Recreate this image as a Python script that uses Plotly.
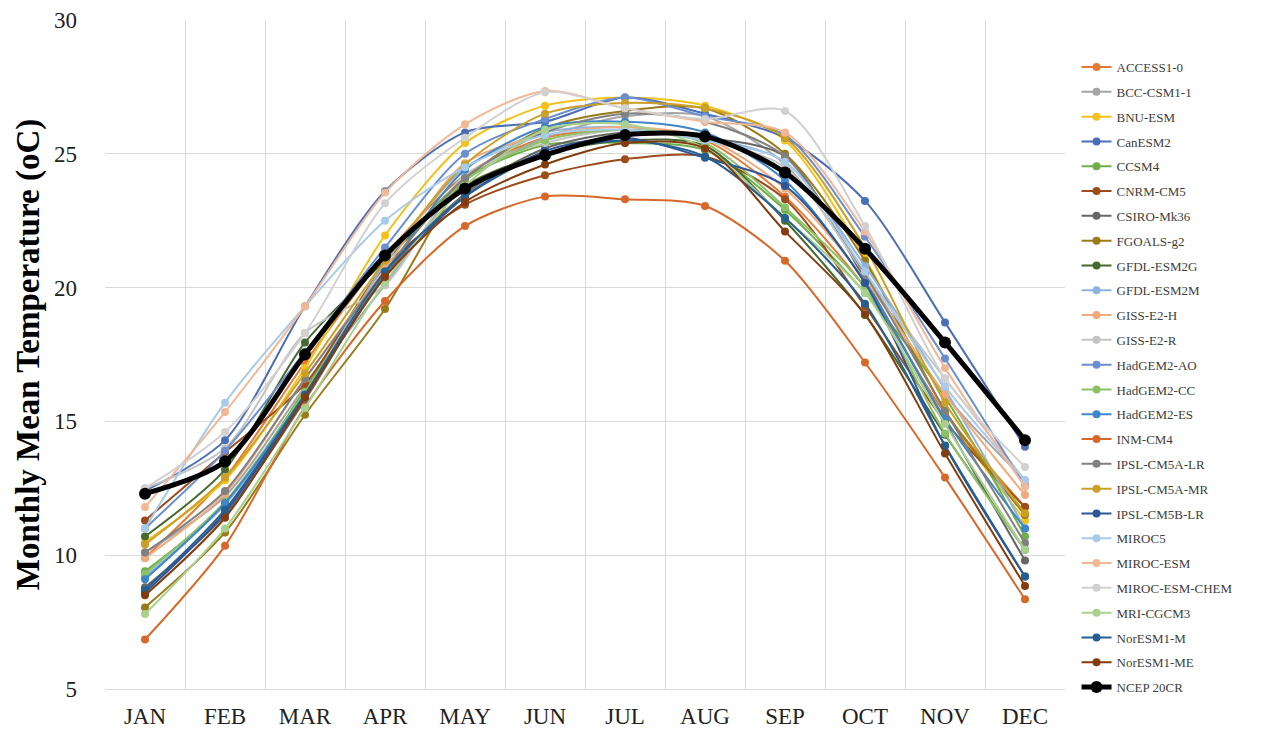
import plotly.graph_objects as go

months = ["JAN", "FEB", "MAR", "APR", "MAY", "JUN", "JUL", "AUG", "SEP", "OCT", "NOV", "DEC"]

ACCESS1_0 = [9.9, 12.9, 17.2, 21.2, 24.2, 25.6, 25.9, 25.5, 23.4, 20.0, 15.3, 11.8]
BCC_CSM1_1 = [10.1, 12.2, 16.3, 20.1, 24.0, 25.6, 26.4, 26.4, 24.6, 20.5, 16.0, 12.8]
BNU_ESM = [10.5, 12.8, 17.0, 21.95, 25.4, 26.8, 27.1, 26.8, 25.5, 21.1, 15.4, 11.3]
CanESM2 = [12.4, 14.3, 19.3, 23.6, 25.8, 26.2, 27.1, 26.5, 25.6, 23.24, 18.7, 14.05]
CCSM4 = [9.4, 11.9, 16.2, 20.9, 24.05, 25.33, 25.4, 25.14, 22.9, 19.8, 15.9, 10.7]
CNRM_CM5 = [11.3, 13.85, 16.4, 20.8, 23.1, 24.2, 24.8, 24.9, 23.3, 19.3, 15.0, 11.8]
CSIRO_Mk36 = [8.8, 11.5, 15.8, 20.5, 23.5, 25.2, 25.8, 25.6, 24.9, 20.3, 15.0, 9.8]
FGOALS_g2 = [8.05, 10.85, 15.25, 19.2, 24.0, 25.96, 26.6, 26.7, 25.0, 21.0, 15.4, 11.5]
GFDL_ESM2G = [10.7, 13.2, 17.95, 21.0, 23.8, 25.0, 25.5, 25.3, 22.5, 18.98, 14.5, 10.2]
GFDL_ESM2M = [9.2, 11.9, 16.0, 20.9, 24.47, 25.8, 26.0, 25.6, 24.7, 20.8, 16.2, 11.0]
GISS_E2_H = [9.9, 12.3, 16.6, 20.7, 24.65, 25.7, 26.0, 25.6, 23.7, 20.3, 16.0, 12.25]
GISS_E2_R = [12.5, 14.0, 18.3, 20.1, 24.2, 25.4, 25.9, 25.5, 24.5, 20.5, 16.6, 12.8]
HadGEM2_AO = [11.0, 13.9, 17.6, 21.5, 25.0, 26.3, 27.1, 26.4, 25.7, 21.9, 17.35, 12.6]
HadGEM2_CC = [9.3, 12.0, 16.1, 20.6, 24.0, 25.5, 25.9, 25.4, 23.0, 20.0, 14.55, 10.2]
HadGEM2_ES = [9.1, 11.95, 16.0, 20.5, 24.4, 26.0, 26.2, 25.8, 24.0, 20.2, 15.1, 11.0]
INM_CM4 = [6.85, 10.35, 15.55, 19.5, 22.3, 23.4, 23.3, 23.05, 21.0, 17.2, 12.9, 8.35]
IPSL_CM5A_LR = [10.1, 12.4, 16.6, 20.6, 24.1, 25.8, 26.5, 26.2, 24.9, 20.5, 15.4, 10.45]
IPSL_CM5A_MR = [10.4, 12.9, 16.8, 21.0, 24.6, 26.5, 26.9, 26.7, 25.6, 21.5, 15.7, 11.57]
IPSL_CM5B_LR = [8.6, 11.6, 15.9, 20.4, 23.4, 25.1, 25.6, 24.85, 23.8, 20.17, 14.08, 9.2]
MIROC5 = [11.0, 15.7, 19.3, 22.5, 24.5, 25.7, 25.9, 25.5, 24.7, 20.6, 16.3, 12.8]
MIROC_ESM = [11.8, 15.35, 19.3, 23.55, 26.1, 27.35, 26.7, 26.2, 25.8, 22.1, 17.0, 12.55]
MIROC_ESM_CHEM = [12.5, 14.6, 18.3, 23.15, 25.6, 27.3, 26.7, 26.3, 26.6, 22.3, 16.6, 13.3]
MRI_CGCM3 = [7.8, 11.0, 15.5, 20.2, 23.8, 25.9, 26.1, 25.2, 22.6, 19.8, 14.9, 10.2]
NorESM1_M = [8.7, 11.7, 16.0, 20.6, 23.4, 25.0, 25.5, 24.9, 22.6, 19.4, 14.1, 9.2]
NorESM1_ME = [8.5, 11.4, 15.9, 20.4, 23.2, 24.6, 25.4, 25.2, 22.1, 19.0, 13.8, 8.85]
NCEP_20CR = [12.3, 13.5, 17.5, 21.2, 23.7, 24.95, 25.7, 25.65, 24.3, 21.45, 17.95, 14.3]

models = [
    ("ACCESS1-0", ACCESS1_0, "#E57A35"),
    ("BCC-CSM1-1", BCC_CSM1_1, "#A5A5A5"),
    ("BNU-ESM", BNU_ESM, "#F2C21B"),
    ("CanESM2", CanESM2, "#4A6FB8"),
    ("CCSM4", CCSM4, "#6FAE48"),
    ("CNRM-CM5", CNRM_CM5, "#9E4B1C"),
    ("CSIRO-Mk36", CSIRO_Mk36, "#666666"),
    ("FGOALS-g2", FGOALS_g2, "#997B1A"),
    ("GFDL-ESM2G", GFDL_ESM2G, "#46692F"),
    ("GFDL-ESM2M", GFDL_ESM2M, "#8FB3DE"),
    ("GISS-E2-H", GISS_E2_H, "#F0AA7C"),
    ("GISS-E2-R", GISS_E2_R, "#C4C4C4"),
    ("HadGEM2-AO", HadGEM2_AO, "#6A8ECF"),
    ("HadGEM2-CC", HadGEM2_CC, "#8CC168"),
    ("HadGEM2-ES", HadGEM2_ES, "#3F86C6"),
    ("INM-CM4", INM_CM4, "#D8682A"),
    ("IPSL-CM5A-LR", IPSL_CM5A_LR, "#808080"),
    ("IPSL-CM5A-MR", IPSL_CM5A_MR, "#CC9F25"),
    ("IPSL-CM5B-LR", IPSL_CM5B_LR, "#2F5597"),
    ("MIROC5", MIROC5, "#A8CBEA"),
    ("MIROC-ESM", MIROC_ESM, "#F2B896"),
    ("MIROC-ESM-CHEM", MIROC_ESM_CHEM, "#D3D0D0"),
    ("MRI-CGCM3", MRI_CGCM3, "#A9D18E"),
    ("NorESM1-M", NorESM1_M, "#255E91"),
    ("NorESM1-ME", NorESM1_ME, "#843C0C"),
]

fig = go.Figure()
for name, vals, col in models:
    fig.add_trace(go.Scatter(
        x=months, y=vals, name=name, mode="lines+markers",
        line=dict(color=col, width=2, shape="spline", smoothing=0.8),
        marker=dict(color=col, size=8),
        legendgroup=name,
    ))

fig.add_trace(go.Scatter(
    x=months, y=NCEP_20CR, name="NCEP 20CR", mode="lines+markers",
    line=dict(color="#000000", width=5, shape="spline", smoothing=0.8),
    marker=dict(color="#000000", size=12),
    legendgroup="NCEP 20CR",
))

serif = "Liberation Serif, Times New Roman, serif"

fig.update_layout(
    width=1261, height=721,
    margin=dict(l=97, r=204, t=12, b=40, autoexpand=False),
    paper_bgcolor="white", plot_bgcolor="white",
    showlegend=True,
    legend=dict(
        x=1.012, y=0.952, xanchor="left", yanchor="top",
        font=dict(family=serif, size=13, color="#404040"),
        tracegroupgap=4.9, itemwidth=30,
        bgcolor="rgba(0,0,0,0)",
        maxheight=1.0,
    ),
    xaxis=dict(
        type="category", tickson="boundaries",
        range=[-0.5, 11.5], automargin=False,
        showgrid=True, gridcolor="#D9D9D9", gridwidth=1,
        showline=True, linecolor="#D9D9D9", linewidth=1,
        ticks="", tickfont=dict(family=serif, size=23, color="#222222"),
        ticklabelstandoff=6,
        zeroline=False,
    ),
    yaxis=dict(
        range=[5, 30], dtick=5, automargin=False,
        showgrid=True, gridcolor="#D9D9D9", gridwidth=1,
        showline=False, zeroline=False,
        ticks="", tickfont=dict(family=serif, size=23, color="#222222"),
        ticklabelstandoff=27,
        title=dict(text="<b>Monthly Mean Temperature (oC)</b>",
                   font=dict(family=serif, size=33, color="#000000"),
                   standoff=4),
    ),
)

fig.write_html("out.html")
